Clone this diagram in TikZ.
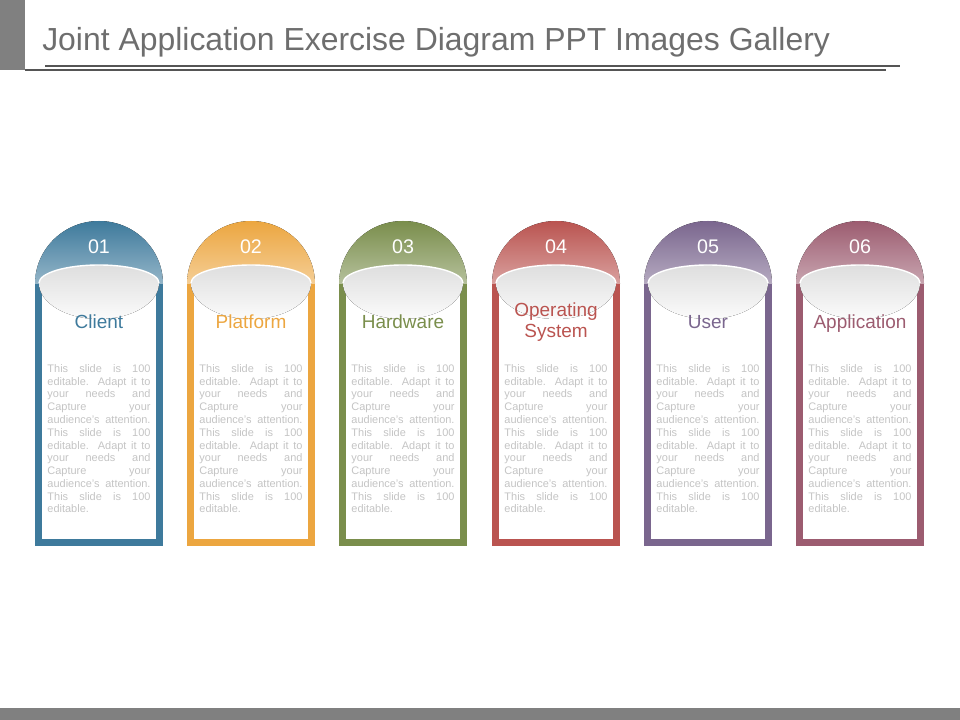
\documentclass[tikz,border=0pt]{standalone}
\usepackage{fontspec}
\setmainfont{Liberation Sans}
\usepackage{tikz}

\definecolor{cardblue}{RGB}{62,122,156}
\definecolor{cardorange}{RGB}{236,166,64}
\definecolor{cardgreen}{RGB}{122,142,76}
\definecolor{cardred}{RGB}{186,84,80}
\definecolor{cardpurple}{RGB}{122,102,142}
\definecolor{cardmauve}{RGB}{156,92,112}
\definecolor{titlegray}{RGB}{110,110,110}
\definecolor{rulegray}{RGB}{85,85,85}
\definecolor{bargray}{RGB}{128,128,128}
\definecolor{bodygray}{RGB}{196,196,196}

\tikzset{
    cardframe/.style={line width=5pt},
    numtext/.style={text=white, font=\fontsize{14}{16}\selectfont, inner sep=0pt, anchor=base},
    labtext/.style={font=\fontsize{13.5}{15}\selectfont, inner sep=0pt, align=center, anchor=base},
    bodytext/.style={text=bodygray, font=\fontsize{7.8}{9.1}\selectfont, inner sep=0pt, text width=73.3pt, align=justify, anchor=north}
}

\newcommand{\jl}[1]{\makebox[73.3pt][s]{#1}\\}
\newcommand{\cardtext}{\jl{This slide is 100}\jl{editable. Adapt it to}\jl{your needs and}\jl{Capture your}\jl{audience's attention.}\jl{This slide is 100}\jl{editable. Adapt it to}\jl{your needs and}\jl{Capture your}\jl{audience's attention.}\jl{This slide is 100}editable.}

\begin{document}
\begin{tikzpicture}[x=0.025cm, y=-0.025cm]
    \newcommand{\card}[6]{
        \draw [cardframe, draw=#3] (#2-60.5,283) -- (#2-60.5,542.5) -- (#2+60.5,542.5) -- (#2+60.5,283);
        \fill [top color=#3, bottom color=#3!55!white] (#2-64,284) arc [start angle=180, end angle=360, x radius=64, y radius=63] -- cycle;
        \fill [top color=gray!26, bottom color=gray!3] (#2-60,283) arc [start angle=180, end angle=360, x radius=60, y radius=18] arc [start angle=0, end angle=180, x radius=60, y radius=36] -- cycle;
        \draw [white, line width=1pt] (#2-60,283) arc [start angle=180, end angle=360, x radius=60, y radius=18];
        \node [numtext] (num#1) at (#2,254) {#4};
        \node [labtext, text=#3] (lab#1) at (#2,#6) {#5};
        \node [bodytext] (txt#1) at (#2,364) {\cardtext};
    }
    \useasboundingbox (0,0) rectangle (960,720);

    % header
    \fill [bargray] (0,0) rectangle (25,70);
    \node [anchor=base west, inner sep=0pt, text=titlegray, font=\fontsize{22.7}{27}\selectfont] (title) at (42,50.5) {Joint Application Exercise Diagram PPT Images Gallery};
    \draw [rulegray, line width=1.4pt] (45,65.7) -- (900,65.7);
    \draw [rulegray, line width=1.4pt] (25,69.7) -- (886,69.7);

    % cards
    \card{1}{99}{cardblue}{01}{Client}{328.5}
    \card{2}{251}{cardorange}{02}{Platform}{328.5}
    \card{3}{403}{cardgreen}{03}{Hardware}{328.5}
    \card{4}{556}{cardred}{04}{Operating\\System}{338}
    \card{5}{708}{cardpurple}{05}{User}{328.5}
    \card{6}{860}{cardmauve}{06}{Application}{328.5}

    % footer
    \fill [bargray] (0,708) rectangle (960,720);
\end{tikzpicture}
\end{document}
